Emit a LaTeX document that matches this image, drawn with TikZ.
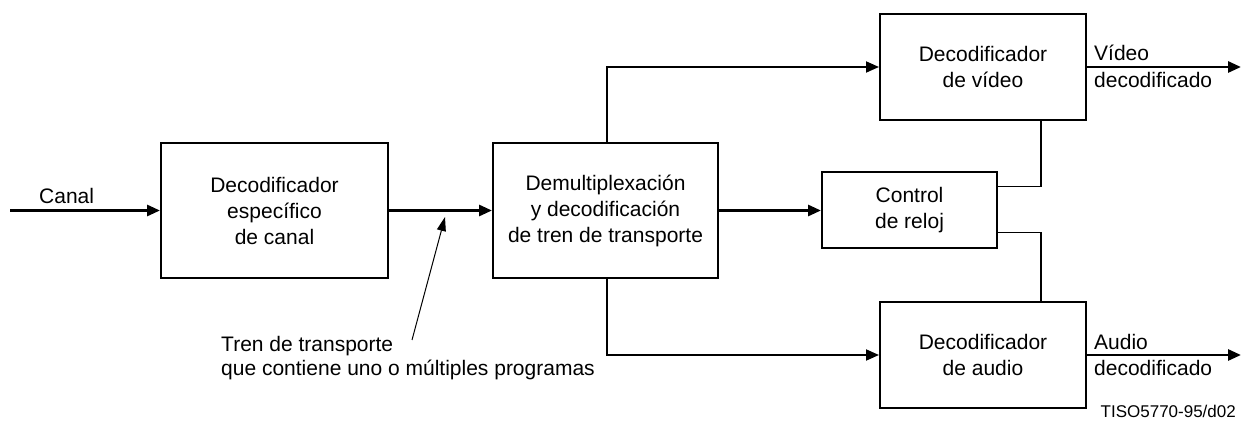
\documentclass[tikz,border=0pt]{standalone}
\usepackage{fontspec}
\setmainfont{Liberation Sans}
\usetikzlibrary{arrows.meta,calc}
\begin{document}
\begin{tikzpicture}[x=1pt,y=-1pt,
  blk/.style={draw,line width=2pt,align=center,font=\fontsize{21}{26}\selectfont,inner sep=0pt},
  lbl/.style={align=left,font=\fontsize{21}{24.5}\selectfont,inner sep=0pt},
  heavy/.style={line width=2.8pt,-{Triangle[length=13pt,width=11pt]}},
  light/.style={line width=1.8pt},
  lighta/.style={line width=1.8pt,-{Triangle[length=13pt,width=11pt]}},
  pointer/.style={line width=1pt,-{Triangle[length=14pt,width=9pt]}}]
\useasboundingbox (0,0) rectangle (1241,427);
\node[blk,minimum width=227pt,minimum height=135pt] (cd) at (274.5,210.5) {Decodificador\\específico\\de canal};
\node[blk,minimum width=225pt,minimum height=135pt] (dm) at (605.5,210.5) {Demultiplexación\\y decodificación\\de tren de transporte};
\node[blk,minimum width=206pt,minimum height=106pt] (vid) at (983,67) {Decodificador\\de vídeo};
\node[blk,minimum width=175pt,minimum height=76pt] (clk) at (909.5,210.5) {Control\\de reloj};
\node[blk,minimum width=206pt,minimum height=106pt] (aud) at (983,355) {Decodificador\\de audio};
\coordinate (in) at (10,210.5);
\coordinate (vo) at (1241,67);
\coordinate (ao) at (1241,355);
\coordinate (tail) at (412,340);
\coordinate (tip) at (445,217);
\node[lbl,anchor=base west] (canal) at (39,204) {Canal};
\node[lbl,anchor=base west] (vl1) at (1094,61) {Vídeo};
\node[lbl,anchor=base west] (vl2) at (1094,88) {decodificado};
\node[lbl,anchor=base west] (al1) at (1094,349) {Audio};
\node[lbl,anchor=base west] (al2) at (1094,375) {decodificado};
\node[lbl,anchor=base west] (t1) at (221,351) {Tren de transporte};
\node[lbl,anchor=base west] (t2) at (221,375) {que contiene uno o múltiples programas};
\node[anchor=base east,inner sep=0pt,font=\fontsize{17}{20}\selectfont] (ref) at (1236,417) {TISO5770-95/d02};
\draw[heavy] (in) -- (cd.west);
\draw[heavy] (cd.east) -- (dm.west);
\draw[heavy] (dm.east) -- (dm.east -| clk.west);
\draw[lighta] ([xshift=1.5pt]dm.north) |- (vid.west);
\draw[lighta] ([xshift=1.5pt]dm.south) |- (aud.west);
\draw[light] ([xshift=58pt]vid.south) |- ([yshift=24pt]clk.east);
\draw[light] ([yshift=-22pt]clk.east) -| ([xshift=58pt]aud.north);
\draw[heavy] (vid.east) -- (vo);
\draw[heavy] (aud.east) -- (ao);
\draw[pointer] (tail) -- (tip);
\end{tikzpicture}
\end{document}
